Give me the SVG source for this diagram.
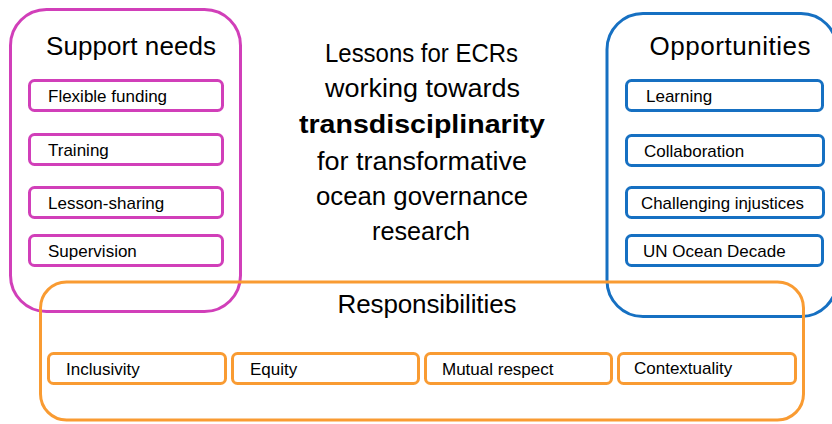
<svg xmlns="http://www.w3.org/2000/svg" width="832" height="424" viewBox="0 0 832 424">
<style>
text{font-family:"Liberation Sans",Arial,sans-serif;fill:#000}
.outer{fill:none;stroke-width:3}
.inner{fill:#fff;stroke-width:3}
.pink{stroke:#D13FB9}
.blue{stroke:#1670C2}
.orange{stroke:#F99B32}
.title{font-size:26px;text-anchor:middle}
.item{font-size:17px;dominant-baseline:central}
.center{font-size:25px;text-anchor:middle}
</style>
<rect width="832" height="424" fill="#fff"/>
<g id="support-needs">
<rect class="outer pink" x="10.5" y="9.5" width="230" height="302" rx="36"/>
<text class="title" x="131" y="55" textLength="170">Support needs</text>
</g>
<g id="opportunities">
<rect class="outer blue" x="607" y="13.5" width="230" height="303" rx="36"/>
<text class="title" x="730" y="55" textLength="161">Opportunities</text>
</g>
<g id="responsibilities">
<rect class="outer orange" x="40.5" y="282" width="763" height="138" rx="26"/>
<text class="title" x="427" y="313" textLength="179">Responsibilities</text>
</g>
<g id="flexible-funding"><rect class="inner pink" x="29.5" y="80.5" width="193" height="30" rx="5"/><text class="item" x="48" y="96">Flexible funding</text></g>
<g id="training"><rect class="inner pink" x="29.5" y="134.5" width="193" height="30" rx="5"/><text class="item" x="48" y="150">Training</text></g>
<g id="lesson-sharing"><rect class="inner pink" x="29.5" y="187.5" width="193" height="30" rx="5"/><text class="item" x="48" y="203">Lesson-sharing</text></g>
<g id="supervision"><rect class="inner pink" x="29.5" y="235.5" width="193" height="30" rx="5"/><text class="item" x="48" y="251">Supervision</text></g>
<g id="learning"><rect class="inner blue" x="626.5" y="80.5" width="196" height="30" rx="5"/><text class="item" x="646" y="96">Learning</text></g>
<g id="collaboration"><rect class="inner blue" x="626.5" y="135.5" width="197" height="30" rx="5"/><text class="item" x="644" y="151">Collaboration</text></g>
<g id="challenging-injustices"><rect class="inner blue" x="626.5" y="187.5" width="197" height="30" rx="5"/><text class="item" x="641" y="203" textLength="163" lengthAdjust="spacingAndGlyphs">Challenging injustices</text></g>
<g id="un-ocean-decade"><rect class="inner blue" x="626.5" y="235.5" width="196" height="30" rx="5"/><text class="item" x="643" y="251">UN Ocean Decade</text></g>
<g id="inclusivity"><rect class="inner orange" x="48.5" y="353.5" width="177" height="30" rx="5"/><text class="item" x="66" y="369">Inclusivity</text></g>
<g id="equity"><rect class="inner orange" x="232.5" y="353.5" width="186" height="30" rx="5"/><text class="item" x="250" y="369">Equity</text></g>
<g id="mutual-respect"><rect class="inner orange" x="425.5" y="353.5" width="186" height="30" rx="5"/><text class="item" x="442" y="369">Mutual respect</text></g>
<g id="contextuality"><rect class="inner orange" x="618.5" y="353.5" width="177" height="30" rx="5"/><text class="item" x="634" y="368">Contextuality</text></g>
<g id="central-title">
<text class="center" x="421.5" y="62" textLength="193" lengthAdjust="spacingAndGlyphs">Lessons for ECRs</text>
<text class="center" x="422.5" y="97" textLength="195" lengthAdjust="spacingAndGlyphs">working towards</text>
<text class="center" x="422" y="133" font-weight="bold" font-size="29" textLength="246" lengthAdjust="spacingAndGlyphs">transdisciplinarity</text>
<text class="center" x="422" y="170" textLength="210" lengthAdjust="spacingAndGlyphs">for transformative</text>
<text class="center" x="422" y="205" textLength="212" lengthAdjust="spacingAndGlyphs">ocean governance</text>
<text class="center" x="421" y="240" textLength="98" lengthAdjust="spacingAndGlyphs">research</text>
</g>
<g id="connectors"/>
</svg>
